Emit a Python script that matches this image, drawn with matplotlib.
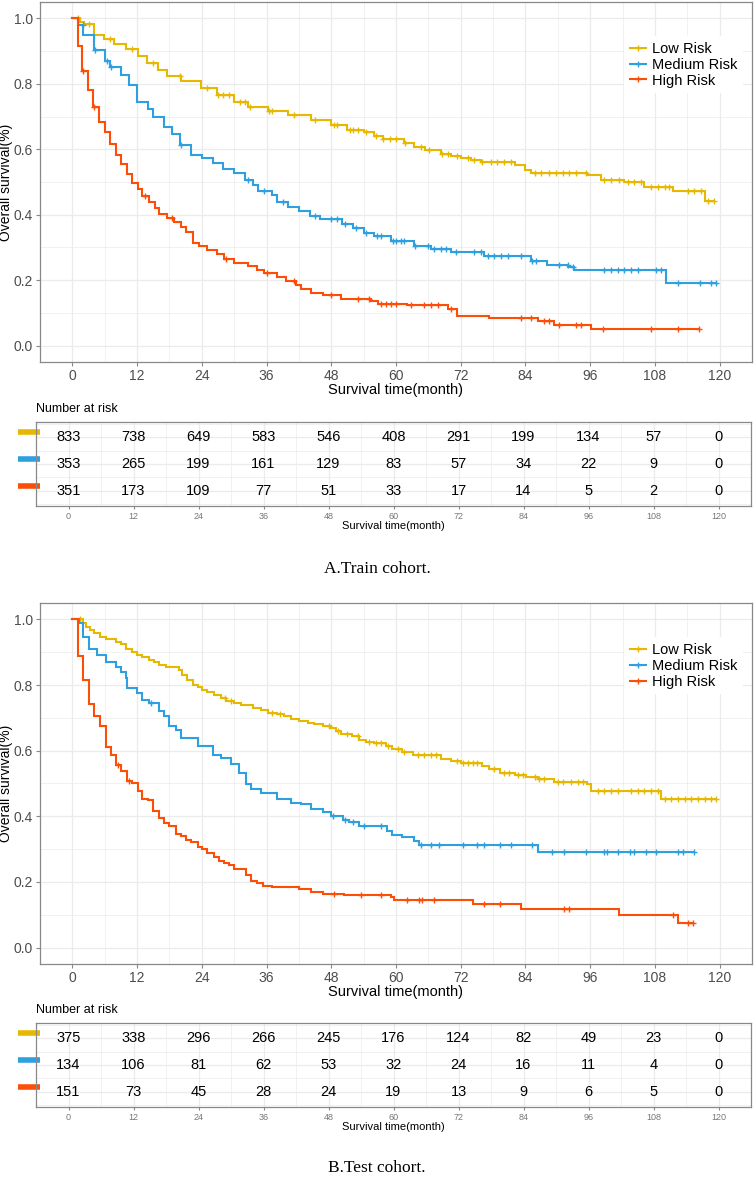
import numpy as np
import matplotlib
matplotlib.use('Agg')
import matplotlib.pyplot as plt
from matplotlib.lines import Line2D
from matplotlib.ticker import MultipleLocator

# ---------------- data ----------------
groups = ['Low Risk', 'Medium Risk', 'High Risk']
colors = ['#E7B800', '#2E9FDF', '#FC4E07']
risk_times = [0, 12, 24, 36, 48, 60, 72, 84, 96, 108, 120]

# Train cohort: event times (months) and survival after each step
train_low_t = [1.5, 2.2, 4.0, 5.9, 7.7, 9.9, 12.1, 13.9, 15.8, 17.6, 20.1, 23.8, 26.9, 30.0, 32.5, 36.2,
               39.9, 44.2, 47.9, 51.0, 54.1, 56.0, 57.5, 61.5, 63.4, 65.3, 68.3, 70.2, 72.0, 73.9, 75.8,
               82.0, 84.0, 85.0, 95.5, 98.0, 102.3, 106.0, 111.3, 117.2]
train_low_s = [0.99, 0.984, 0.95, 0.936, 0.923, 0.906, 0.886, 0.865, 0.842, 0.825, 0.81, 0.787, 0.766,
               0.744, 0.729, 0.717, 0.706, 0.688, 0.673, 0.66, 0.653, 0.64, 0.63, 0.619, 0.607, 0.597,
               0.587, 0.579, 0.572, 0.567, 0.562, 0.552, 0.536, 0.528, 0.521, 0.506, 0.5, 0.486, 0.473, 0.443]
train_low_cens = [1, 3, 7, 11, 15, 20, 25, 27, 28, 29, 31, 32, 33, 36.5, 37, 41, 45, 48.5, 49, 51.5, 52, 53,
                  54.5, 56.3, 57.6, 58.8, 60, 61.7, 64.6, 66.2, 68.5, 69.6, 71.4, 73.3, 74.5, 75.9, 77.6, 78.8,
                  80.1, 81.3, 85.7, 86.9, 88.4, 89.7, 90.9, 92.1, 93.4, 95.2, 98.6, 99.9, 101.4, 103, 104.2,
                  105.4, 107.3, 108.5, 109.8, 110.7, 114.1, 115.3, 116.6, 117.8, 119.0]

train_med_t = [1.0, 2.0, 4.0, 6.0, 7.0, 9.0, 10.5, 12.0, 14.0, 15.0, 17.0, 18.5, 20.0, 22.0, 24.0, 26.0,
               28.0, 30.0, 32.0, 33.5, 34.5, 37.0, 38.0, 40.0, 42.0, 44.0, 46.0, 50.0, 52.0, 54.0, 56.0,
               59.0, 63.4, 66.5, 70.2, 76.4, 85.0, 88.0, 91.9, 93.0, 110.0]
train_med_s = [0.98, 0.948, 0.903, 0.87, 0.85, 0.828, 0.795, 0.744, 0.724, 0.698, 0.668, 0.648, 0.612,
               0.582, 0.574, 0.557, 0.541, 0.526, 0.506, 0.491, 0.471, 0.46, 0.44, 0.425, 0.41, 0.397,
               0.387, 0.372, 0.359, 0.344, 0.334, 0.319, 0.304, 0.296, 0.286, 0.273, 0.258, 0.246, 0.24,
               0.231, 0.192]
train_med_cens = [1.9, 4.2, 6.5, 7.1, 20.2, 32.6, 35.5, 39, 45, 48, 49, 50.5, 52.5, 54.5, 56.5, 57.2, 59.4,
                  60, 61, 61.5, 63.6, 65.9, 67.1, 68.3, 69.3, 71.1, 74.5, 75.8, 77, 78.2, 79.5, 80.7, 83.2,
                  85.3, 86, 90.3, 91.8, 92.8, 98.6, 99.9, 101.1, 102.3, 103.6, 104.8, 108.2, 109.2, 112.2,
                  116.3, 118.4, 119.4]

train_high_t = [1.05, 1.86, 2.9, 3.9, 4.9, 6.0, 7.0, 8.0, 9.0, 10.1, 11.0, 12.1, 13.0, 14.2, 15.3, 16.1,
                17.6, 18.9, 20.1, 21.0, 22.3, 23.5, 25.0, 26.9, 28.1, 30.0, 32.5, 34.3, 35.6, 38.0, 39.6,
                41.4, 42.4, 44.2, 46.4, 49.8, 55.3, 56.6, 62.1, 69.6, 71.4, 77.3, 86.3, 89.3, 96.1]
train_high_s = [0.915, 0.838, 0.782, 0.73, 0.683, 0.652, 0.615, 0.582, 0.555, 0.524, 0.498, 0.478, 0.458,
                0.44, 0.42, 0.403, 0.39, 0.377, 0.364, 0.348, 0.315, 0.303, 0.293, 0.28, 0.265, 0.252,
                0.243, 0.232, 0.222, 0.21, 0.198, 0.184, 0.173, 0.162, 0.154, 0.143, 0.137, 0.128, 0.124,
                0.111, 0.091, 0.084, 0.074, 0.064, 0.051]
train_high_cens = [1.9, 4.0, 13.5, 18.5, 28.5, 36, 41, 48, 53, 55, 57.2, 58.1, 59, 60, 62.8, 65.2, 66.5,
                   67.7, 70.2, 83.2, 85, 87.5, 88.4, 90.3, 93.4, 94.3, 98.3, 107.3, 112.2, 116.2]

# Test cohort
test_low_t = [1.9, 2.5, 3.3, 4.1, 5.1, 6.2, 8.0, 9.0, 10.0, 11.1, 12.0, 13.0, 14.2, 15.2, 16.1, 17.3,
              19.8, 20.4, 21.3, 22.3, 23.2, 24.1, 25.0, 26.3, 27.5, 28.5, 30.0, 31.2, 33.4, 35.0, 36.2,
              38.0, 39.3, 40.5, 42.0, 43.6, 44.8, 46.4, 47.9, 48.9, 49.8, 51.9, 53.2, 54.4, 56.0, 58.1,
              59.3, 61.2, 63.2, 68.3, 70.2, 72.0, 76.0, 77.3, 79.2, 82.0, 84.1, 86.3, 89.3, 95.5, 96.1,
              109.1]
test_low_s = [0.988, 0.978, 0.968, 0.96, 0.947, 0.94, 0.932, 0.925, 0.909, 0.9, 0.892, 0.884, 0.877,
              0.869, 0.861, 0.856, 0.846, 0.831, 0.816, 0.801, 0.793, 0.786, 0.78, 0.77, 0.76, 0.75,
              0.745, 0.74, 0.73, 0.723, 0.715, 0.711, 0.705, 0.698, 0.69, 0.685, 0.68, 0.674, 0.669,
              0.659, 0.652, 0.644, 0.632, 0.626, 0.622, 0.614, 0.606, 0.597, 0.586, 0.576, 0.568, 0.563,
              0.553, 0.543, 0.533, 0.527, 0.521, 0.513, 0.506, 0.497, 0.476, 0.454]
test_low_cens = [1.5, 28.3, 29.5, 37, 38.5, 47.5, 49.3, 51, 53, 55, 56.3, 57.2, 58.5, 60.3, 61.5, 64, 65.2,
                 66.5, 67.4, 71.4, 72.4, 73.3, 74.2, 75.1, 78.2, 80.1, 81, 82.6, 83.5, 85.7, 86.6, 87.5, 90,
                 90.9, 92.5, 93.7, 94.6, 97.4, 98.6, 99.9, 101.1, 103.6, 104.8, 106, 107.3, 108.5, 109.8,
                 111, 112.2, 113.5, 114.7, 115.9, 117.2, 118.4, 119.3]

test_med_t = [1.2, 2.0, 3.1, 4.6, 6.2, 8.0, 9.0, 10.0, 10.2, 12.0, 13.0, 14.2, 16.1, 17.0, 17.9, 19.2,
              20.1, 23.2, 26.0, 27.5, 29.4, 30.9, 32.2, 33.1, 34.9, 38.0, 40.5, 42.4, 44.2, 46.4, 47.9,
              50.1, 51.3, 53.2, 58.4, 59.3, 61.2, 63.4, 64.3, 86.3]
test_med_s = [0.988, 0.947, 0.909, 0.892, 0.869, 0.856, 0.841, 0.821, 0.791, 0.776, 0.755, 0.745, 0.72,
              0.705, 0.674, 0.664, 0.639, 0.614, 0.588, 0.578, 0.558, 0.533, 0.497, 0.482, 0.47, 0.452,
              0.442, 0.437, 0.422, 0.412, 0.401, 0.389, 0.383, 0.369, 0.356, 0.343, 0.336, 0.324, 0.312,
              0.292]
test_med_cens = [14.5, 48.3, 50.5, 52, 54, 57.2, 64.6, 66.5, 68, 72.4, 75.1, 76.4, 79.2, 81.3, 85.3, 89,
                 91.2, 95.2, 98.6, 99.2, 101.1, 103.3, 104.2, 106.4, 108.2, 112.2, 113.2, 115.3]

test_high_t = [1.05, 2.0, 3.1, 4.1, 5.1, 6.2, 7.1, 8.0, 9.1, 10.1, 11.1, 12.1, 13.0, 14.0, 15.0, 16.1,
               17.0, 17.9, 19.2, 20.1, 21.0, 22.0, 23.2, 24.1, 25.0, 26.3, 27.2, 28.1, 29.1, 30.0, 32.2,
               33.1, 34.3, 35.3, 37.1, 42.0, 44.2, 46.4, 50.4, 59.0, 59.7, 74.2, 83.2, 101.4, 112.2]
test_high_s = [0.887, 0.816, 0.742, 0.705, 0.676, 0.611, 0.586, 0.556, 0.538, 0.508, 0.5, 0.477, 0.454,
               0.45, 0.417, 0.396, 0.381, 0.369, 0.346, 0.339, 0.329, 0.321, 0.308, 0.3, 0.288, 0.277,
               0.265, 0.258, 0.252, 0.24, 0.221, 0.204, 0.197, 0.189, 0.186, 0.179, 0.169, 0.164, 0.159,
               0.154, 0.144, 0.133, 0.118, 0.098, 0.076]
test_high_cens = [8.5, 10.5, 48.5, 53.5, 57.2, 62.1, 64.3, 64.9, 67.1, 76.4, 79.2, 91.2, 92.1, 111.3,
                  114.1, 115.0]

train_risk = [[833, 738, 649, 583, 546, 408, 291, 199, 134, 57, 0],
              [353, 265, 199, 161, 129, 83, 57, 34, 22, 9, 0],
              [351, 173, 109, 77, 51, 33, 17, 14, 5, 2, 0]]
test_risk = [[375, 338, 296, 266, 245, 176, 124, 82, 49, 23, 0],
             [134, 106, 81, 62, 53, 32, 24, 16, 11, 4, 0],
             [151, 73, 45, 28, 24, 19, 13, 9, 6, 5, 0]]

captions = ['A.Train cohort.', 'B.Test cohort.']

# ---------------- style ----------------
SANS = ['Liberation Sans', 'DejaVu Sans']
NARROW = ['Liberation Sans Narrow', 'Liberation Sans', 'DejaVu Sans']
SERIF = ['Liberation Serif', 'DejaVu Serif']
plt.rcParams['font.family'] = SANS
GRID = '#EBEBEB'
BORDER = '#888888'

W, H = 754, 1177
fig = plt.figure(figsize=(W / 100, H / 100), dpi=100)


def fr(x0, y0, x1, y1):
    return [x0 / W, 1 - y1 / H, (x1 - x0) / W, (y1 - y0) / H]


def style_panel(ax):
    for sp in ax.spines.values():
        sp.set_color(BORDER)
        sp.set_linewidth(0.9)
    ax.set_axisbelow(True)
    ax.grid(which='major', color=GRID, linewidth=0.9)
    ax.grid(which='minor', color=GRID, linewidth=0.5)
    ax.tick_params(which='minor', length=0)
    ax.tick_params(which='major', color=BORDER, length=3, width=0.8)


def step_curve(t, s, cens):
    end = max(max(cens), t[-1])
    times = np.r_[0.0, np.asarray(t, float), end]
    surv = np.r_[1.0, np.asarray(s, float), s[-1]]
    idx = np.searchsorted(times, np.asarray(cens, float), side='right') - 1
    return times, surv, np.asarray(cens, float), surv[idx]


def km_panel(rect, curves):
    ax = fig.add_axes(fr(*rect))
    style_panel(ax)
    for (t, s, c), col in zip(curves, colors):
        times, surv, cx, cy = step_curve(t, s, c)
        ax.step(times, surv, where='post', color=col, linewidth=1.5, solid_joinstyle='miter')
        ax.plot(cx, cy, linestyle='none', marker='+', color=col, markersize=5, markeredgewidth=1.0)
    ax.set_xlim(-6, 126)
    ax.set_ylim(-0.05, 1.05)
    ax.xaxis.set_major_locator(MultipleLocator(12))
    ax.xaxis.set_minor_locator(MultipleLocator(6))
    ax.yaxis.set_major_locator(MultipleLocator(0.2))
    ax.yaxis.set_minor_locator(MultipleLocator(0.1))
    ax.set_yticks(np.arange(0, 1.01, 0.2))
    ax.set_yticklabels(['%.1f' % v for v in np.arange(0, 1.01, 0.2)])
    ax.tick_params(labelsize=10, labelcolor='#4D4D4D', pad=2)
    ax.set_xlabel('Survival time(month)', fontsize=10.5, labelpad=0)
    ax.set_ylabel('Overall survival(%)', fontsize=10)
    ax.yaxis.set_label_coords(-0.038, 0.5)
    handles = [Line2D([0], [0], color=col, linewidth=1.5, marker='+', markersize=5, markeredgewidth=1.0)
               for col in colors]
    ax.legend(handles, groups, loc='upper left', bbox_to_anchor=(0.82, 0.905), fontsize=10.5,
              frameon=True, facecolor='white', edgecolor='none', framealpha=1, fancybox=False,
              handlelength=1.1, handletextpad=0.45, labelspacing=0.12, borderpad=0.4,
              borderaxespad=0)
    return ax


def risk_panel(rect, table):
    ax = fig.add_axes(fr(*rect))
    style_panel(ax)
    ax.set_xlim(-6, 126)
    ax.set_ylim(3.58, 0.42)
    ax.xaxis.set_major_locator(MultipleLocator(12))
    ax.xaxis.set_minor_locator(MultipleLocator(6))
    ax.set_yticks([1, 2, 3])
    ax.yaxis.set_minor_locator(MultipleLocator(0.5))
    ax.set_yticklabels([])
    ax.tick_params(axis='y', which='major', length=0)
    ax.tick_params(axis='x', labelsize=6.5, labelcolor='#777777', pad=1.5, length=2.5)
    for lab in ax.get_xticklabels():
        lab.set_family(NARROW)
    for row, (vals, col) in enumerate(zip(table, colors), start=1):
        for tt, v in zip(risk_times, vals):
            ax.text(tt, row, str(v), ha='center', va='center', fontsize=10.5, family=NARROW)
        ax.plot([-0.025, 0.006], [row - 0.19, row - 0.19], color=col, linewidth=4,
                transform=ax.get_yaxis_transform(), clip_on=False, solid_capstyle='butt')
    ax.set_xlabel('Survival time(month)', fontsize=8, family=NARROW, labelpad=0)
    ax.text(0.0, 1.08, 'Number at risk', transform=ax.transAxes, ha='left', va='bottom',
            fontsize=9, family=NARROW)
    return ax


km_panel((40, 2, 752, 362), [(train_low_t, train_low_s, train_low_cens),
                             (train_med_t, train_med_s, train_med_cens),
                             (train_high_t, train_high_s, train_high_cens)])
risk_panel((36, 422, 751, 506), train_risk)
fig.text(377 / W, 1 - 569 / H, captions[0], ha='center', va='center', fontsize=12.5, family=SERIF)

km_panel((40, 603, 752, 964), [(test_low_t, test_low_s, test_low_cens),
                               (test_med_t, test_med_s, test_med_cens),
                               (test_high_t, test_high_s, test_high_cens)])
risk_panel((36, 1023, 751, 1107), test_risk)
fig.text(377 / W, 1 - 1168 / H, captions[1], ha='center', va='center', fontsize=12.5, family=SERIF)

fig.savefig('out.png', dpi=100)
